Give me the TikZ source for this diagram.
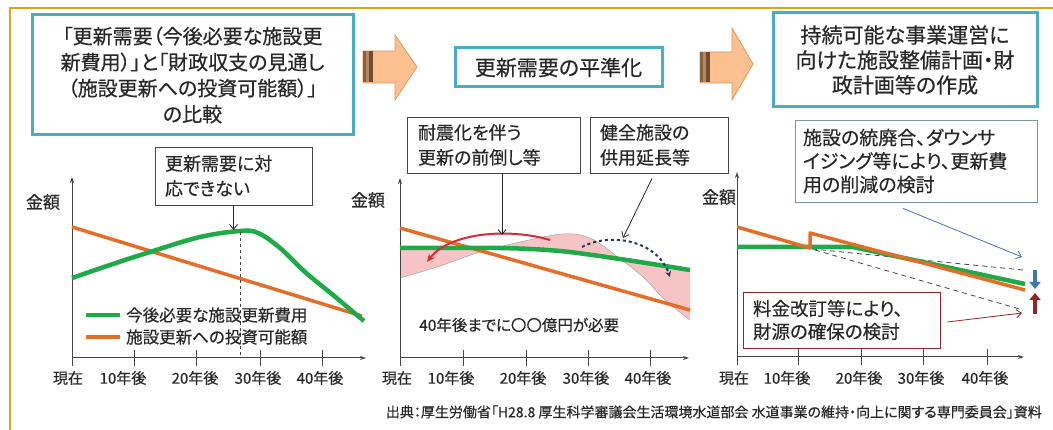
\documentclass[tikz,border=0pt]{standalone}
\usepackage{fontspec}
\setmainfont{Noto Sans CJK JP}[RawFeature=+palt, FakeBold=0.4]
\usetikzlibrary{arrows.meta,calc}
\definecolor{gold}{RGB}{218,165,32}
\definecolor{teal}{RGB}{75,172,198}
\definecolor{arrfill}{RGB}{250,192,144}
\definecolor{arrdraw}{RGB}{226,150,90}
\definecolor{stripeA}{RGB}{140,95,60}
\definecolor{stripeB}{RGB}{185,135,95}
\definecolor{gline}{RGB}{30,170,70}
\definecolor{oline}{RGB}{228,110,40}
\definecolor{pinkfill}{RGB}{246,196,196}
\definecolor{redarc}{RGB}{222,40,55}
\definecolor{navy}{RGB}{31,56,100}
\definecolor{txt}{RGB}{40,40,40}
\definecolor{axisc}{RGB}{70,70,70}
\definecolor{bluec}{RGB}{68,114,180}
\definecolor{bluebox}{RGB}{120,150,170}
\definecolor{darkred}{RGB}{150,35,40}
\tikzset{
  titlebox/.style={draw=teal, line width=3pt, fill=white, align=center, text=txt, inner sep=0pt},
  callout/.style={draw=axisc, line width=0.8pt, fill=white, align=left, text=txt, inner ysep=0pt},
  axisline/.style={draw=axisc, line width=1pt, -{Stealth[length=6pt,width=4pt]}},
  tickline/.style={draw=axisc, line width=1pt},
  ticklabel/.style={text=txt, font=\fontsize{15}{17}\selectfont, inner sep=0pt},
  yunit/.style={text=txt, font=\fontsize{17}{19}\selectfont, inner sep=0pt},
  callarrow/.style={draw=txt, line width=0.8pt, -{Straight Barb[length=5pt,width=8pt]}},
  blockarrow/.style={fill=arrfill, draw=arrdraw, line width=0.8pt},
  greenl/.style={draw=gline, line width=4.5pt},
  orangel/.style={draw=oline, line width=3.5pt},
}
\begin{document}
\begin{tikzpicture}[x=1pt,y=-1pt]
\useasboundingbox (0,0) rectangle (1053,430);
\fill[white] (0,0) rectangle (1053,430);
% frame
\draw[gold, line width=2.5pt] (10,430) -- (10,8) -- (1053,8);

% title boxes
\node[titlebox, minimum width=321pt, minimum height=120pt, font=\fontsize{20}{26}\selectfont] (t1) at (192.5,75)
  {「更新需要（今後必要な施設更\\新費用）」と「財政収支の見通し\\（施設更新への投資可能額）」\\の比較};
\node[titlebox, minimum width=207pt, minimum height=39pt, font=\fontsize{21}{24}\selectfont] (t2) at (558.5,67.5) {更新需要の平準化};
\node[titlebox, minimum width=264pt, minimum height=94pt, font=\fontsize{21}{25}\selectfont] (t3) at (905,60)
  {持続可能な事業運営に\\向けた施設整備計画・財\\政計画等の作成};

% block arrows
\path[blockarrow] (363,51) -- (395,51) -- (395,35) -- (417,67) -- (395,100) -- (395,83) -- (363,83) -- cycle;
\fill[stripeA] (363,51.5) rectangle (366,82.5);
\fill[stripeB] (366,51.5) rectangle (369,82.5);
\fill[stripeA!80!black] (369,51.5) rectangle (373,82.5);
\path[blockarrow] (700,52) -- (732,52) -- (732,28) -- (753,64) -- (732,100) -- (732,83) -- (700,83) -- cycle;
\fill[stripeA] (700,52.5) rectangle (703,82.5);
\fill[stripeB] (703,52.5) rectangle (706,82.5);
\fill[stripeA!80!black] (706,52.5) rectangle (710,82.5);

% ================= chart 1 =================
\coordinate (o1) at (72,358);
\draw[axisline] (72,366) -- (72,177);
\draw[axisline] (o1) -- (366,358);
\foreach \x in {134,196,260,322} \draw[tickline] (\x,350) -- (\x,366);
\node[yunit] (y1) at (43,202) {金額};
\node[ticklabel] (l10) at (68,378) {現在};
\node[ticklabel] (l11) at (123,378) {10年後};
\node[ticklabel] (l12) at (195,378) {20年後};
\node[ticklabel] (l13) at (258,378) {30年後};
\node[ticklabel] (l14) at (320,378) {40年後};
\draw[orangel] (72,227) -- (362,316);
\draw[greenl] plot[smooth, tension=0.6] coordinates {(72,278) (110,265) (150,252) (200,237) (240,231) (258,233) (280,248) (305,272) (333,295) (364,321)};
\draw[axisc, line width=0.9pt, dashed] (240,232) -- (240,358);
\node[callout, minimum height=58pt, text width=137pt, inner xsep=10pt, font=\fontsize{18}{25}\selectfont] (c1) at (233.5,176)
  {更新需要に対\\応できない};
\coordinate (c1t) at (233.5,230);
\draw[callarrow] (c1.south) -- (c1t);
% legend
\draw[greenl] (86,315) -- (120,315);
\draw[orangel] (86,337) -- (120,337);
\node[text=txt, anchor=west, inner sep=0pt, font=\fontsize{16.5}{18}\selectfont] (lg1) at (126,315) {今後必要な施設更新費用};
\node[text=txt, anchor=west, inner sep=0pt, font=\fontsize{16.5}{18}\selectfont] (lg2) at (126,337) {施設更新への投資可能額};

% ================= chart 2 =================
\coordinate (o2) at (400,358);
\fill[pinkfill] plot[smooth, tension=0.6] coordinates {(400,278) (440,266) (480,252) (520,242) (563,234) (590,238) (615,255) (643,277) (665,300) (690,320)}
  -- plot[smooth, tension=0.6] coordinates {(690,270) (640,263) (590,255) (540,249) (500,248) (400,248)} -- cycle;
\draw[gray!70, line width=0.5pt] plot[smooth, tension=0.6] coordinates {(400,278) (440,266) (480,252) (520,242) (563,234) (590,238) (615,255) (643,277) (665,300) (690,320)};
\draw[axisline] (400,366) -- (400,178);
\draw[axisline] (o2) -- (689,358);
\foreach \x in {463,526,588,650} \draw[tickline] (\x,350) -- (\x,366);
\node[yunit] (y2) at (368,200) {金額};
\node[ticklabel] (l20) at (397,378) {現在};
\node[ticklabel] (l21) at (451,378) {10年後};
\node[ticklabel] (l22) at (523,378) {20年後};
\node[ticklabel] (l23) at (586,378) {30年後};
\node[ticklabel] (l24) at (648,378) {40年後};
\draw[orangel] (400,228) -- (690,310);
\draw[greenl] plot[smooth, tension=0.5] coordinates {(400,248) (500,248) (560,251) (620,259) (690,270)};
\draw[redarc, line width=2pt, -{Stealth[length=8pt,width=7pt]}] (550,240) .. controls (510,228) and (450,232) .. (427,262);
\draw[navy, line width=2pt, dashed, -{Stealth[length=6pt,width=6pt]}] (582,247) .. controls (610,232) and (657,240) .. (670,277);
\node[callout, minimum height=56pt, text width=151pt, inner xsep=11pt, font=\fontsize{18}{25}\selectfont] (c2a) at (493.5,145)
  {耐震化を伴う\\更新の前倒し等};
\coordinate (c2at) at (502,235);
\draw[callarrow] (c2a.south -| c2at) -- (c2at);
\node[callout, minimum height=56pt, text width=118pt, inner xsep=10pt, font=\fontsize{18}{25}\selectfont] (c2b) at (659,145)
  {健全施設の\\供用延長等};
\coordinate (c2bt) at (623,238);
\draw[callarrow] ($(c2b.south)+(-7,5)$) -- (c2bt);
\node[text=txt, anchor=west, inner sep=0pt, font=\fontsize{15.5}{18}\selectfont] (need) at (419,325) {40年後までに〇〇億円が必要};

% ================= chart 3 =================
\coordinate (o3) at (737,357);
\draw[axisline] (737,365) -- (737,172);
\draw[axisline] (o3) -- (1024,357);
\foreach \x in {798,861,923,987} \draw[tickline] (\x,349) -- (\x,365);
\node[yunit] (y3) at (719,197) {金額};
\node[ticklabel] (l30) at (734,378) {現在};
\node[ticklabel] (l31) at (787,378) {10年後};
\node[ticklabel] (l32) at (859,378) {20年後};
\node[ticklabel] (l33) at (921,378) {30年後};
\node[ticklabel] (l34) at (985,378) {40年後};
\draw[axisc, line width=0.8pt, dash pattern=on 5pt off 4pt] (812,249) -- (1023,270);
\draw[axisc, line width=0.8pt, dash pattern=on 5pt off 4pt] (815,250) -- (1023,310);
\draw[greenl, line join=round] (737,247) -- (853,247) -- (1025,284);
\draw[orangel, line join=round] (737,227) -- (810,248) -- (810,233) -- (1025,290);
\draw[bluec, line width=4.5pt, -{Triangle[length=7pt,width=11pt]}] (1035,270) -- (1035,289);
\draw[darkred, line width=4.5pt, -{Triangle[length=7pt,width=11pt]}] (1035,314) -- (1035,293);
\node[callout, draw=bluebox, minimum height=82pt, text width=226pt, inner xsep=8pt, font=\fontsize{19}{23.5}\selectfont] (c3a) at (916,161)
  {施設の統廃合、ダウンサ\\イジング等により、更新費\\用の削減の検討};
\coordinate (c3at) at (1022,257);
\draw[callarrow, draw=bluec] ($(c3a.south)+(-13,6)$) -- (c3at);
\node[callout, draw=darkred, minimum height=56pt, text width=177pt, inner xsep=10pt, font=\fontsize{18.5}{23}\selectfont] (c3b) at (841.5,320)
  {料金改訂等により、\\財源の確保の検討};
\coordinate (c3bt) at (1022,313);
\draw[callarrow, draw=darkred] ($(c3b.east)+(7,2)$) -- (c3bt);

% source
\node[text=txt, anchor=east, inner sep=0pt, font=\fontsize{14}{15}\selectfont] (src) at (1042,412)
  {出典：厚生労働省「H28.8 厚生科学審議会生活環境水道部会 水道事業の維持・向上に関する専門委員会」資料};
\end{tikzpicture}
\end{document}
